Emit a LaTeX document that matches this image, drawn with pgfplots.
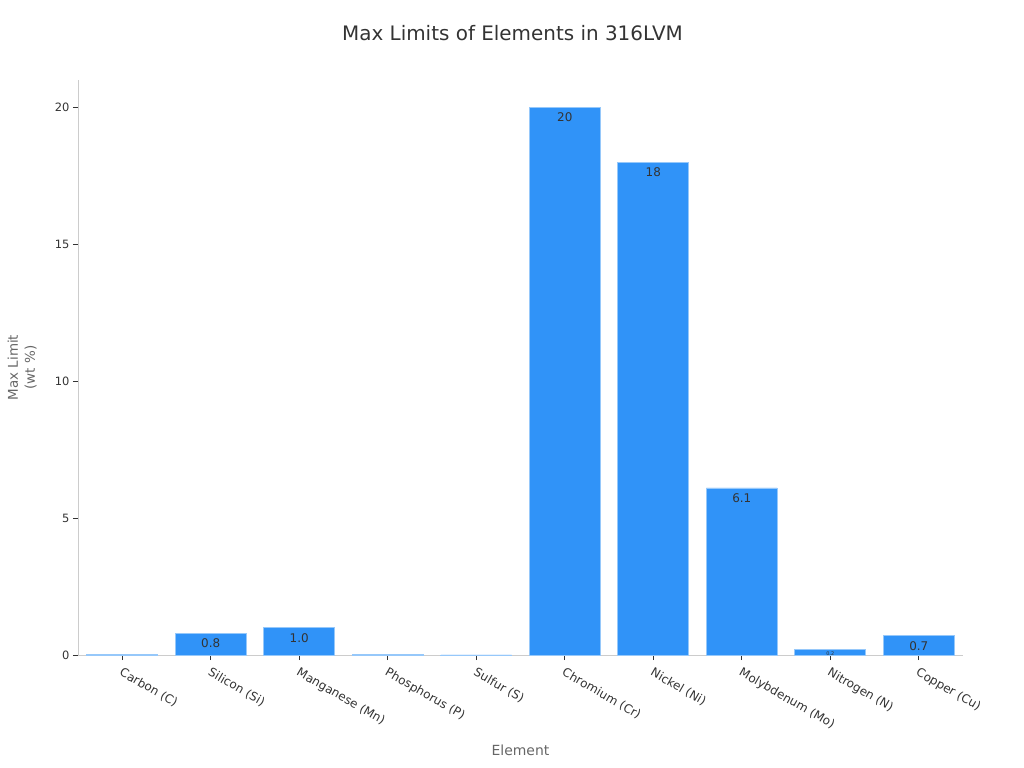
\documentclass[border=0pt]{standalone}
\usepackage{pgfplots}
\pgfplotsset{compat=1.18}
\usepackage{fontspec}
\setmainfont{DejaVu Sans}
\definecolor{barblue}{RGB}{48,147,248}
\definecolor{baredge}{RGB}{150,200,250}
\definecolor{txt}{RGB}{51,51,51}
\definecolor{lbl}{RGB}{102,102,102}
\definecolor{axl}{RGB}{204,204,204}
\begin{document}
\begin{tikzpicture}
\path[use as bounding box] (0,0) rectangle (1024bp,768bp);
\begin{axis}[
  at={(78bp,113bp)}, anchor=south west,
  scale only axis, width=885bp, height=575bp,
  xmin=-0.5, xmax=9.5, ymin=0, ymax=21,
  axis x line*=bottom, axis y line*=left,
  axis line style={axl, line width=0.8bp},
  xtick={0,...,9},
  xticklabels={Carbon (C),Silicon (Si),Manganese (Mn),Phosphorus (P),Sulfur (S),Chromium (Cr),Nickel (Ni),Molybdenum (Mo),Nitrogen (N),Copper (Cu)},
  ytick={0,5,10,15,20},
  tick align=outside, major tick length=5bp,
  tick style={txt, line width=0.8bp},
  x tick label style={rotate=-30, anchor=north west, font=\fontsize{12}{14}\selectfont, text=txt, xshift=1bp, yshift=-2bp},
  y tick label style={font=\fontsize{11.5}{13}\selectfont, text=txt},
  /pgf/number format/assume math mode=true,
  xlabel={Element}, xlabel style={font=\fontsize{14}{16}\selectfont, text=lbl, at={(axis description cs:0.5,0)}, anchor=center, yshift=-95bp},
  ylabel={Max Limit\\(wt \%)}, ylabel style={font=\fontsize{13.5}{17}\selectfont, text=lbl, align=center, at={(axis description cs:-0.063,0.5)}, anchor=center},
  ybar, bar width=0.8, bar shift=0pt,
  title={Max Limits of Elements in 316LVM},
  title style={font=\fontsize{20}{23}\selectfont, text=txt, at={(axis description cs:0.5,1)}, anchor=center, yshift=41bp, xshift=-8bp},
  clip=false,
]
\addplot[fill=barblue, draw=baredge, line width=0.8bp] coordinates {(0,0.03) (3,0.025) (4,0.003)};
\addplot[fill=barblue, draw=baredge, line width=0.8bp, nodes near coords, point meta=explicit symbolic,
  every node near coord/.append style={anchor=north, font=\fontsize{12}{14}\selectfont, text=txt, yshift=-2bp}]
  coordinates {(1,0.8)[0.8] (2,1.0)[1.0] (5,20)[20] (6,18)[18] (7,6.1)[6.1] (9,0.7)[0.7]};
\addplot[fill=barblue, draw=baredge, line width=0.8bp, nodes near coords, point meta=explicit symbolic,
  every node near coord/.append style={anchor=north, font=\fontsize{5}{6}\selectfont, text=txt, yshift=1bp}]
  coordinates {(8,0.2)[0.2]};
\end{axis}
\end{tikzpicture}
\end{document}
